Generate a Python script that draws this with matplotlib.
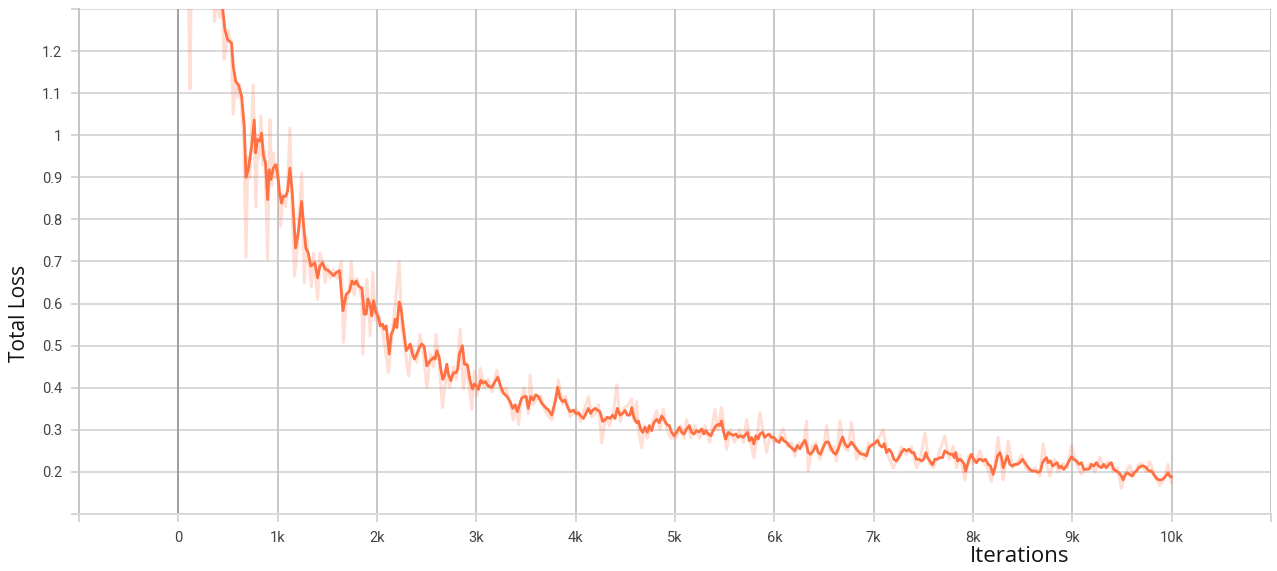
import matplotlib
matplotlib.use("Agg")
import matplotlib.pyplot as plt
import numpy as np

# ---------------- data ----------------
smooth_steps = [
    0, 100, 200, 300, 380, 420, 446, 469, 496, 536, 553, 577, 604, 637, 664, 681, 704, 738, 764, 778,
    798, 822, 838, 858, 878, 899, 915, 932, 956, 979, 999, 1019, 1039, 1056, 1080, 1100, 1123, 1147, 1180, 1207,
    1241, 1268, 1284, 1308, 1334, 1375, 1402, 1425, 1452, 1479, 1512, 1546, 1563, 1590, 1623, 1657, 1690, 1724, 1747, 1771,
    1791, 1814, 1848, 1871, 1891, 1908, 1932, 1948, 1965, 1989, 2015, 2032, 2056, 2072, 2092, 2123, 2143, 2166, 2183, 2200,
    2223, 2243, 2267, 2294, 2317, 2334, 2357, 2377, 2401, 2428, 2451, 2475, 2502, 2535, 2569, 2585, 2602, 2626, 2642, 2662,
    2679, 2703, 2719, 2743, 2770, 2793, 2813, 2830, 2860, 2880, 2911, 2937, 2961, 2981, 3005, 3021, 3045, 3065, 3089, 3122,
    3156, 3189, 3216, 3246, 3273, 3306, 3340, 3367, 3390, 3414, 3434, 3457, 3481, 3501, 3524, 3548, 3575, 3598, 3625, 3659,
    3692, 3726, 3759, 3793, 3819, 3843, 3870, 3893, 3917, 3944, 3977, 4004, 4027, 4051, 4078, 4104, 4128, 4151, 4172, 4195,
    4218, 4245, 4272, 4296, 4319, 4346, 4373, 4396, 4420, 4447, 4473, 4497, 4520, 4547, 4564, 4587, 4614, 4631, 4654, 4674,
    4698, 4721, 4741, 4765, 4788, 4815, 4842, 4865, 4889, 4916, 4943, 4966, 4990, 5016, 5043, 5067, 5090, 5117, 5144, 5167,
    5191, 5218, 5244, 5268, 5291, 5312, 5335, 5362, 5385, 5412, 5436, 5452, 5469, 5486, 5509, 5536, 5560, 5587, 5613, 5637,
    5660, 5687, 5714, 5731, 5747, 5771, 5794, 5814, 5838, 5855, 5881, 5905, 5922, 5945, 5972, 5996, 6022, 6049, 6073, 6096,
    6123, 6150, 6184, 6207, 6231, 6258, 6284, 6308, 6325, 6341, 6365, 6392, 6418, 6442, 6465, 6492, 6519, 6543, 6566, 6593,
    6620, 6643, 6667, 6687, 6710, 6734, 6754, 6777, 6801, 6828, 6854, 6878, 6901, 6928, 6955, 6978, 7002, 7022, 7039, 7062,
    7086, 7106, 7129, 7153, 7180, 7203, 7230, 7253, 7280, 7304, 7331, 7357, 7381, 7404, 7431, 7458, 7481, 7505, 7525, 7542,
    7565, 7592, 7616, 7639, 7666, 7693, 7716, 7740, 7767, 7794, 7811, 7827, 7844, 7868, 7891, 7911, 7925, 7941, 7961, 7985,
    8008, 8035, 8059, 8079, 8102, 8126, 8153, 8176, 8203, 8226, 8247, 8270, 8287, 8304, 8327, 8347, 8371, 8394, 8421, 8448,
    8471, 8498, 8521, 8545, 8572, 8599, 8625, 8656, 8679, 8699, 8723, 8740, 8756, 8780, 8800, 8823, 8847, 8867, 8890, 8914,
    8941, 8967, 8991, 9014, 9041, 9068, 9091, 9115, 9142, 9169, 9192, 9216, 9242, 9266, 9293, 9316, 9343, 9370, 9393, 9417,
    9444, 9470, 9494, 9511, 9534, 9554, 9578, 9601, 9621, 9645, 9668, 9695, 9718, 9745, 9772, 9796, 9819, 9846, 9873, 9896,
    9920, 9940, 9963, 9980, 9997,
]
smooth_loss = [
    2.6, 2.1, 1.8, 1.6, 1.45, 1.36, 1.30, 1.251, 1.227, 1.219, 1.164, 1.128, 1.120, 1.093, 1.021, 0.900, 0.918, 0.974, 1.036, 0.958,
    0.990, 0.986, 1.005, 0.950, 0.934, 0.847, 0.918, 0.895, 0.922, 0.930, 0.910, 0.863, 0.839, 0.855, 0.855, 0.867, 0.922, 0.863, 0.732, 0.768,
    0.843, 0.768, 0.732, 0.720, 0.689, 0.697, 0.661, 0.689, 0.697, 0.682, 0.678, 0.670, 0.666, 0.674, 0.678, 0.583, 0.622, 0.630, 0.654, 0.646,
    0.654, 0.642, 0.636, 0.575, 0.575, 0.611, 0.595, 0.571, 0.607, 0.579, 0.567, 0.547, 0.551, 0.539, 0.547, 0.480, 0.527, 0.539, 0.563, 0.543,
    0.604, 0.587, 0.539, 0.488, 0.496, 0.504, 0.480, 0.468, 0.480, 0.496, 0.504, 0.498, 0.452, 0.464, 0.472, 0.468, 0.488, 0.472, 0.444, 0.420,
    0.428, 0.456, 0.432, 0.417, 0.436, 0.435, 0.444, 0.480, 0.500, 0.456, 0.454, 0.417, 0.397, 0.409, 0.403, 0.396, 0.418, 0.411, 0.415, 0.403,
    0.401, 0.415, 0.425, 0.403, 0.387, 0.380, 0.367, 0.351, 0.359, 0.343, 0.359, 0.375, 0.379, 0.379, 0.351, 0.379, 0.371, 0.383, 0.379, 0.363,
    0.354, 0.347, 0.335, 0.367, 0.401, 0.375, 0.367, 0.371, 0.355, 0.343, 0.347, 0.338, 0.341, 0.333, 0.327, 0.339, 0.351, 0.339, 0.347, 0.351,
    0.347, 0.343, 0.320, 0.324, 0.330, 0.327, 0.335, 0.327, 0.351, 0.335, 0.339, 0.346, 0.335, 0.335, 0.353, 0.329, 0.317, 0.321, 0.302, 0.294,
    0.306, 0.294, 0.310, 0.298, 0.317, 0.325, 0.317, 0.333, 0.325, 0.313, 0.310, 0.294, 0.286, 0.294, 0.306, 0.294, 0.290, 0.302, 0.310, 0.294,
    0.290, 0.298, 0.295, 0.302, 0.290, 0.298, 0.290, 0.286, 0.298, 0.310, 0.313, 0.310, 0.321, 0.298, 0.278, 0.294, 0.290, 0.287, 0.290, 0.282,
    0.286, 0.282, 0.290, 0.294, 0.274, 0.282, 0.266, 0.286, 0.278, 0.290, 0.294, 0.282, 0.286, 0.290, 0.282, 0.282, 0.274, 0.270, 0.282, 0.274,
    0.270, 0.262, 0.255, 0.250, 0.263, 0.255, 0.267, 0.275, 0.263, 0.246, 0.242, 0.250, 0.263, 0.246, 0.242, 0.259, 0.271, 0.271, 0.259, 0.246,
    0.242, 0.254, 0.271, 0.283, 0.267, 0.259, 0.263, 0.271, 0.263, 0.254, 0.246, 0.242, 0.242, 0.238, 0.259, 0.263, 0.267, 0.271, 0.275, 0.263,
    0.259, 0.267, 0.246, 0.254, 0.246, 0.230, 0.226, 0.234, 0.246, 0.254, 0.250, 0.254, 0.246, 0.246, 0.230, 0.230, 0.226, 0.230, 0.246, 0.234,
    0.226, 0.217, 0.230, 0.230, 0.234, 0.234, 0.250, 0.246, 0.242, 0.242, 0.234, 0.246, 0.226, 0.230, 0.226, 0.218, 0.202, 0.214, 0.230, 0.242,
    0.230, 0.222, 0.230, 0.230, 0.226, 0.230, 0.218, 0.214, 0.194, 0.214, 0.238, 0.246, 0.234, 0.210, 0.226, 0.238, 0.218, 0.214, 0.218, 0.218,
    0.222, 0.230, 0.222, 0.214, 0.206, 0.202, 0.202, 0.199, 0.202, 0.222, 0.230, 0.234, 0.222, 0.226, 0.214, 0.218, 0.222, 0.210, 0.214, 0.206,
    0.214, 0.226, 0.236, 0.230, 0.226, 0.218, 0.222, 0.206, 0.206, 0.207, 0.218, 0.214, 0.222, 0.214, 0.210, 0.218, 0.210, 0.218, 0.222, 0.206,
    0.202, 0.198, 0.190, 0.181, 0.194, 0.198, 0.194, 0.190, 0.198, 0.202, 0.210, 0.214, 0.214, 0.210, 0.202, 0.202, 0.194, 0.185, 0.181, 0.181,
    0.185, 0.190, 0.198, 0.190, 0.188,
]

raw_steps = [
    0, 50, 117, 160, 220, 280, 330, 365, 390, 415, 440, 460, 480, 500, 530, 553, 575, 600, 620, 640,
    660, 681, 700, 720, 754, 781, 800, 815, 832, 850, 870, 899, 922, 940, 956, 975, 1000, 1029, 1050, 1080,
    1100, 1123, 1147, 1170, 1200, 1241, 1268, 1290, 1310, 1340, 1360, 1402, 1425, 1455, 1479, 1500, 1530, 1560, 1600, 1640,
    1663, 1690, 1720, 1740, 1770, 1800, 1848, 1857, 1880, 1898, 1932, 1958, 1985, 2010, 2060, 2116, 2140, 2180, 2223, 2250,
    2280, 2317, 2350, 2400, 2434, 2470, 2502, 2540, 2570, 2595, 2625, 2659, 2700, 2730, 2770, 2800, 2837, 2870, 2900, 2954,
    2980, 3005, 3040, 3080, 3120, 3160, 3206, 3250, 3300, 3340, 3374, 3400, 3424, 3450, 3480, 3524, 3541, 3570, 3600, 3650,
    3700, 3760, 3800, 3826, 3870, 3900, 3944, 4000, 4050, 4090, 4128, 4160, 4200, 4230, 4262, 4300, 4340, 4380, 4413, 4450,
    4480, 4530, 4564, 4590, 4614, 4631, 4664, 4690, 4720, 4760, 4815, 4850, 4882, 4920, 4960, 5016, 5060, 5090, 5117, 5160,
    5200, 5250, 5300, 5350, 5402, 5430, 5469, 5519, 5560, 5600, 5650, 5690, 5721, 5760, 5794, 5830, 5855, 5922, 5960, 6000,
    6040, 6089, 6130, 6170, 6207, 6250, 6290, 6325, 6341, 6380, 6420, 6460, 6500, 6526, 6560, 6600, 6626, 6660, 6700, 6740,
    6777, 6828, 6870, 6910, 6950, 7000, 7050, 7096, 7140, 7196, 7240, 7280, 7330, 7380, 7431, 7470, 7515, 7560, 7600, 7650,
    7716, 7760, 7801, 7834, 7870, 7918, 7960, 8000, 8040, 8069, 8110, 8150, 8186, 8220, 8253, 8304, 8354, 8400, 8440, 8490,
    8530, 8580, 8630, 8670, 8706, 8740, 8773, 8820, 8860, 8910, 8950, 8991, 9040, 9091, 9140, 9180, 9230, 9276, 9320, 9360,
    9410, 9450, 9494, 9540, 9578, 9620, 9660, 9700, 9740, 9779, 9830, 9880, 9920, 9963, 9997,
]
raw_loss = [
    2.6, 2.2, 1.11, 1.9, 1.7, 1.6, 1.45, 1.27, 1.34, 1.28, 1.36, 1.18, 1.21, 1.25, 1.22, 1.05, 1.14, 1.09, 1.12, 1.05,
    0.98, 0.71, 0.95, 0.90, 1.12, 0.83, 1.00, 0.95, 1.045, 0.93, 0.96, 0.705, 1.037, 0.88, 0.958, 0.90, 0.93, 0.784, 0.86, 0.83,
    0.88, 1.017, 0.80, 0.665, 0.74, 0.910, 0.649, 0.758, 0.70, 0.64, 0.72, 0.61, 0.72, 0.70, 0.65, 0.69, 0.66, 0.68, 0.66, 0.70,
    0.508, 0.60, 0.63, 0.70, 0.62, 0.66, 0.61, 0.48, 0.60, 0.658, 0.524, 0.674, 0.56, 0.58, 0.53, 0.436, 0.50, 0.59, 0.70, 0.54,
    0.50, 0.428, 0.50, 0.46, 0.527, 0.47, 0.40, 0.48, 0.45, 0.527, 0.46, 0.353, 0.44, 0.40, 0.45, 0.42, 0.539, 0.397, 0.46, 0.349,
    0.44, 0.38, 0.446, 0.40, 0.42, 0.39, 0.442, 0.39, 0.40, 0.36, 0.323, 0.36, 0.312, 0.37, 0.40, 0.339, 0.430, 0.36, 0.37, 0.38,
    0.34, 0.323, 0.37, 0.418, 0.36, 0.38, 0.331, 0.35, 0.32, 0.35, 0.379, 0.33, 0.34, 0.36, 0.268, 0.33, 0.31, 0.34, 0.407, 0.32,
    0.35, 0.36, 0.373, 0.32, 0.367, 0.300, 0.258, 0.31, 0.28, 0.31, 0.345, 0.30, 0.349, 0.30, 0.28, 0.282, 0.31, 0.28, 0.325, 0.28,
    0.31, 0.28, 0.31, 0.27, 0.349, 0.30, 0.353, 0.254, 0.30, 0.27, 0.30, 0.27, 0.325, 0.27, 0.234, 0.29, 0.341, 0.246, 0.29, 0.27,
    0.28, 0.302, 0.26, 0.27, 0.238, 0.27, 0.26, 0.321, 0.201, 0.26, 0.27, 0.23, 0.26, 0.31, 0.25, 0.26, 0.225, 0.321, 0.26, 0.25,
    0.317, 0.23, 0.25, 0.23, 0.27, 0.26, 0.28, 0.30, 0.24, 0.209, 0.23, 0.26, 0.24, 0.26, 0.21, 0.23, 0.292, 0.22, 0.21, 0.24,
    0.285, 0.23, 0.262, 0.21, 0.24, 0.181, 0.24, 0.22, 0.23, 0.25, 0.22, 0.21, 0.177, 0.22, 0.282, 0.181, 0.274, 0.21, 0.22, 0.24,
    0.21, 0.20, 0.21, 0.19, 0.266, 0.22, 0.19, 0.23, 0.20, 0.22, 0.21, 0.262, 0.22, 0.195, 0.21, 0.22, 0.20, 0.235, 0.21, 0.225,
    0.20, 0.21, 0.161, 0.20, 0.215, 0.19, 0.215, 0.22, 0.20, 0.225, 0.19, 0.169, 0.18, 0.218, 0.175,
]

x_ticks = [-1000, 0, 1000, 2000, 3000, 4000, 5000, 6000, 7000, 8000, 9000, 10000, 11000]
x_tick_labels = ["", "0", "1k", "2k", "3k", "4k", "5k", "6k", "7k", "8k", "9k", "10k", ""]
y_ticks = [0.1, 0.2, 0.3, 0.4, 0.5, 0.6, 0.7, 0.8, 0.9, 1.0, 1.1, 1.2, 1.3]
y_tick_labels = ["", "0.2", "0.3", "0.4", "0.5", "0.6", "0.7", "0.8", "0.9", "1", "1.1", "1.2", ""]

# ---------------- figure ----------------
W, H = 1277, 571
fig = plt.figure(figsize=(W / 100, H / 100), dpi=100)
ax = fig.add_axes([79 / W, 1 - 514 / H, (1271 - 79) / W, (514 - 9) / H])

ax.set_xlim(-1000, 11000)
ax.set_ylim(0.1, 1.3)

# grid
for yt in y_ticks:
    ax.axhline(yt, color="#d9d9d9", lw=1.4, zorder=0)
for xt in x_ticks:
    c = "#9e9e9e" if xt == 0 else "#c6c6c6"
    ax.axvline(xt, color=c, lw=1.4, zorder=0.5)

ax.plot(raw_steps, raw_loss, color="#ff7043", alpha=0.22, lw=2.2, zorder=2)
ax.plot(smooth_steps, smooth_loss, color="#ff7043", lw=2.0, zorder=3)

for s in ["top", "right"]:
    ax.spines[s].set_visible(False)
ax.spines["left"].set_color("#c6c6c6")
ax.spines["left"].set_linewidth(1.4)
ax.spines["bottom"].set_color("#d9d9d9")
ax.spines["bottom"].set_linewidth(1.4)

ax.set_xticks(x_ticks)
ax.set_xticklabels(x_tick_labels)
ax.set_yticks(y_ticks)
ax.set_yticklabels(y_tick_labels)
ax.tick_params(axis="both", length=6, width=1.2, color="#cfcfcf",
               labelcolor="#444444", labelsize=10.5, pad=6)
for lab in ax.get_xticklabels() + ax.get_yticklabels():
    lab.set_family(["Roboto", "DejaVu Sans"])

fig.text(1020 / W, 1 - 556 / H, "Iterations", ha="center", va="center",
         fontsize=16, family=["Open Sans", "DejaVu Sans"], color="#111111")
fig.text(20 / W, 1 - 313 / H, "Total Loss", ha="center", va="center", rotation=90,
         fontsize=15, family=["Open Sans", "DejaVu Sans"], color="#111111")

fig.savefig("out.png", dpi=100, facecolor="white")
